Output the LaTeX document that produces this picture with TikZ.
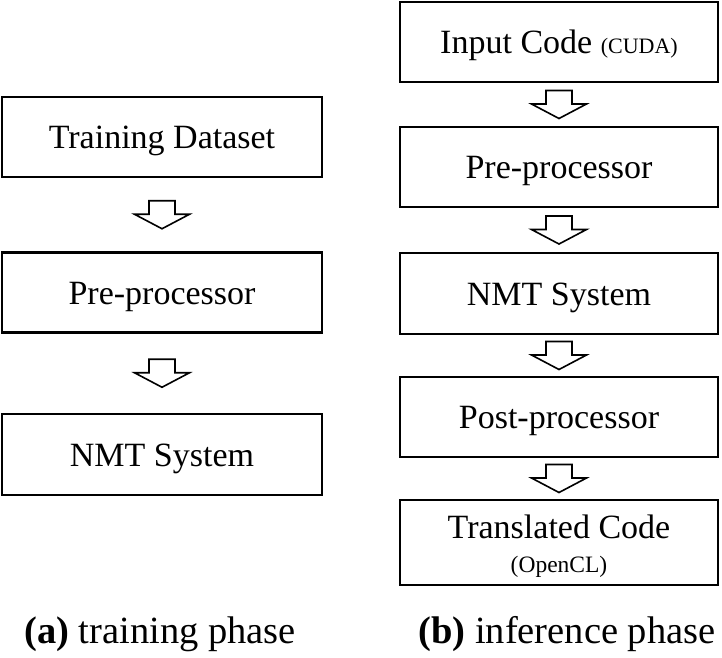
\documentclass[tikz,border=0pt]{standalone}
\usepackage{fontspec}
\setmainfont{Liberation Serif}
\usetikzlibrary{calc}
\begin{document}
\begin{tikzpicture}[x=1pt,y=-1pt,
  box/.style={draw, line width=2.6pt, minimum height=80pt, inner sep=0pt, text height=23pt, text depth=0pt, font=\fontsize{34}{40}\selectfont},
  lbox/.style={box, minimum width=320pt},
  rbox/.style={box, minimum width=318pt},
  hollowarrow/.pic={\draw[line width=1.6pt, line join=miter] (-13,-14) -- (13,-14) -- (13,-0.5) -- (27.5,-0.5) -- (0,14) -- (-27.5,-0.5) -- (-13,-0.5) -- cycle;},
  capt/.style={font=\fontsize{38.5}{44}\selectfont, inner sep=0pt, anchor=base}
]
\useasboundingbox (0,0) rectangle (722,657);
% left column
\node[lbox] (l1) at (162,137) {Training Dataset};
\node[lbox] (l2) at (162,292.5) {Pre-processor};
\node[lbox, minimum height=81pt] (l3) at (162,454.5) {NMT System};
% right column
\node[rbox] (r1) at (559,42) {Input Code {\fontsize{22}{26}\selectfont (CUDA)}};
\node[rbox] (r2) at (559,167) {Pre-processor};
\node[rbox, minimum height=81pt] (r3) at (559,293.5) {NMT System};
\node[rbox] (r4) at (559,417) {Post-processor};
\node[rbox, minimum height=85pt, align=center, text height=60pt] (r5) at (559,542.5) {Translated Code\\[-6pt]{\fontsize{23.5}{28}\selectfont (OpenCL)}};
% arrows
\pic at ($(l1.south)!0.5!(l2.north)$) {hollowarrow};
\pic at ($(l2.south)!0.5!(l3.north)$) {hollowarrow};
\pic at ($(r1.south)!0.5!(r2.north)$) {hollowarrow};
\pic at ($(r2.south)!0.5!(r3.north)$) {hollowarrow};
\pic at ($(r3.south)!0.5!(r4.north)$) {hollowarrow};
\pic at ($(r4.south)!0.5!(r5.north)$) {hollowarrow};
% captions
\node[capt] (ca) at (160,643) {\textbf{(a)} training phase};
\node[capt] (cb) at (567,643) {\textbf{(b)} inference phase};
\end{tikzpicture}
\end{document}
